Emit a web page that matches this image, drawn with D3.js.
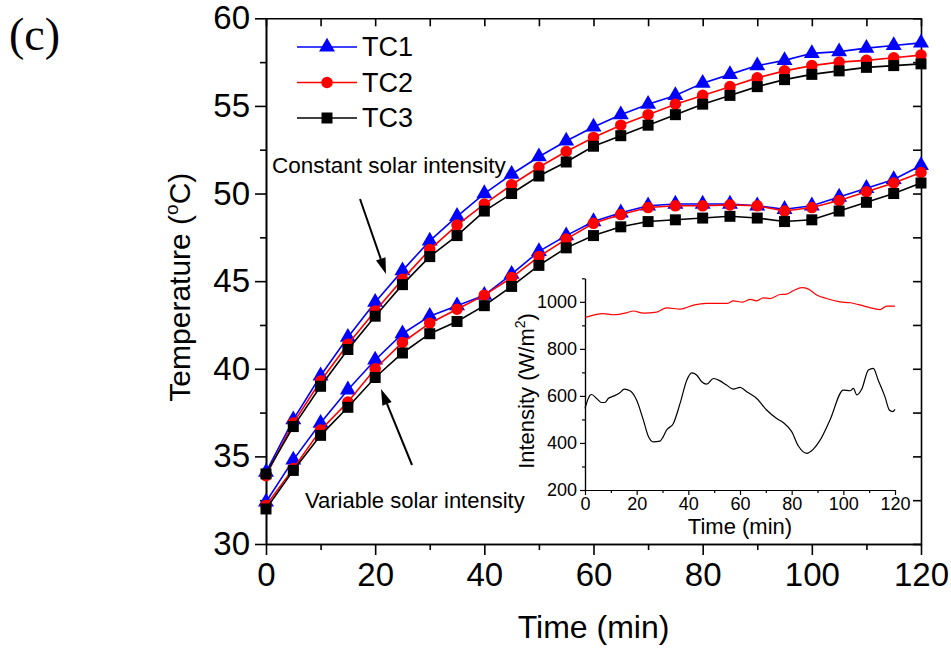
<!DOCTYPE html>
<html>
<head>
<meta charset="utf-8">
<script src="https://cdn.jsdelivr.net/npm/d3@7"></script>
<style>
  body { margin: 0; background: #fff; }
  svg { display: block; font-family: 'Liberation Sans', Arial, sans-serif; }
</style>
</head>
<body>
<div id="chart"></div>
<script>
// time of each marker (min)
const times = [0, 5, 10, 15, 20, 25, 30, 35, 40, 45, 50, 55, 60, 65, 70, 75, 80, 85, 90, 95, 100, 105, 110, 115, 120];

// constant solar intensity run
const constTC1 = [34.1, 37.1, 39.6, 41.8, 43.8, 45.6, 47.3, 48.7, 50.0, 51.1, 52.1, 53.0, 53.8, 54.5, 55.1, 55.6, 56.3, 56.8, 57.3, 57.6, 58.0, 58.1, 58.3, 58.45, 58.6];
const constTC2 = [33.9, 36.9, 39.3, 41.4, 43.3, 45.1, 46.8, 48.2, 49.4, 50.5, 51.5, 52.4, 53.2, 53.9, 54.5, 55.1, 55.6, 56.1, 56.6, 57.0, 57.3, 57.5, 57.6, 57.75, 57.9];
const constTC3 = [34.0, 36.7, 39.0, 41.1, 43.0, 44.8, 46.4, 47.6, 49.0, 50.0, 51.0, 51.8, 52.7, 53.3, 53.9, 54.5, 55.1, 55.6, 56.1, 56.5, 56.8, 57.0, 57.2, 57.3, 57.4];

// variable solar intensity run
const varTC1 = [32.4, 34.8, 36.9, 38.8, 40.5, 42.0, 43.0, 43.6, 44.2, 45.4, 46.7, 47.6, 48.4, 48.9, 49.3, 49.4, 49.4, 49.4, 49.3, 49.1, 49.3, 49.8, 50.3, 50.8, 51.6];
const varTC2 = [32.2, 34.3, 36.5, 38.1, 40.0, 41.5, 42.6, 43.4, 44.2, 45.2, 46.4, 47.4, 48.3, 48.8, 49.2, 49.3, 49.3, 49.35, 49.3, 49.0, 49.2, 49.6, 50.1, 50.6, 51.2];
const varTC3 = [32.0, 34.2, 36.2, 37.8, 39.5, 40.9, 42.0, 42.7, 43.6, 44.7, 45.9, 46.9, 47.6, 48.1, 48.4, 48.5, 48.6, 48.7, 48.6, 48.4, 48.5, 49.0, 49.5, 50.0, 50.6];

// inset: solar intensity (W/m2)
const constIntTimes = [0, 7, 11, 16, 18.7, 22.6, 27.7, 31.6, 36.8, 42, 47, 55, 57.4, 61, 64, 66.5, 69, 71.6, 75.5, 78, 80.6, 83.9, 86.5, 89.7, 93.5, 98.7, 102.6, 107.7, 111.6, 114.2, 116.8, 120];
const constIntensity = [933, 950, 945, 953, 961, 952, 956, 974, 969, 986, 993, 993, 1004, 999, 1010, 1004, 1017, 1014, 1031, 1033, 1047, 1060, 1054, 1029, 1014, 1000, 996, 983, 972, 967, 982, 982];
const varIntTimes = [0, 1.9, 2.6, 4.5, 6.5, 7.7, 9, 11, 13.5, 15.2, 17.4, 20, 22.6, 24.5, 26.5, 29, 30.3, 31.6, 34.2, 36.8, 39.4, 41.3, 43.2, 45.2, 47.1, 49.7, 52.3, 54.8, 57.4, 60, 62.6, 66.5, 70.3, 74.2, 76.8, 80, 82.6, 85.8, 88.4, 91, 94.8, 100, 102.6, 103.9, 105.2, 107.1, 109.7, 111.6, 113.5, 116.1, 117.8, 119.1, 120];
const varIntensity = [547, 602, 606, 589, 572, 572, 589, 599, 613, 629, 622, 582, 497, 429, 405, 408, 427, 455, 483, 568, 667, 698, 689, 660, 650, 674, 664, 646, 629, 636, 618, 589, 540, 504, 486, 448, 387, 356, 374, 412, 497, 625, 622, 632, 604, 628, 710, 717, 667, 597, 540, 533, 543];

const tempTicks = [30, 35, 40, 45, 50, 55, 60];
const tempMinorTicks = [32.5, 37.5, 42.5, 47.5, 52.5, 57.5];
const timeTicks = [0, 20, 40, 60, 80, 100, 120];
const timeMinorTicks = [10, 30, 50, 70, 90, 110];
const intensityTicks = [200, 400, 600, 800, 1000];
const intensityMinorTicks = [300, 500, 700, 900, 1100];

const seriesNames = ['TC1', 'TC2', 'TC3'];
const seriesColors = ['#0000ff', '#ff0000', '#000000'];
const seriesSymbols = [d3.symbolTriangle, d3.symbolCircle, d3.symbolSquare];
const symbolSizes = [110, 105, 121];

const width = 951;
const height = 650;

const svg = d3.select('#chart').append('svg').attr('width', width).attr('height', height);

const x = d3.scaleLinear().domain([0, 120]).range([266, 921]);
const y = d3.scaleLinear().domain([30, 60]).range([544, 18.3]);

const styleAxis = (g, fontSize, strokeWidth) => {
  g.selectAll('path.domain').attr('stroke', '#000').attr('stroke-width', strokeWidth);
  g.selectAll('.tick line').attr('stroke', '#000').attr('stroke-width', strokeWidth);
  g.selectAll('text').attr('fill', '#000').style('font-size', `${fontSize}px`).style('font-family', "'Liberation Sans', Arial, sans-serif");
};

// main axes: left and bottom outward with labels, top and right inward
const [xLeft, xRight] = x.range();
const [yBottom, yTop] = y.range();

const leftMinor = svg.append('g').attr('transform', `translate(${xLeft},0)`)
  .call(d3.axisLeft(y).tickValues(tempMinorTicks).tickSize(6).tickSizeOuter(0).tickFormat(''));
styleAxis(leftMinor, 33, 1.6);
const leftAxis = svg.append('g').attr('transform', `translate(${xLeft},0)`)
  .call(d3.axisLeft(y).tickValues(tempTicks).tickSize(11).tickSizeOuter(0).tickPadding(5));
styleAxis(leftAxis, 33, 1.6);

const bottomMinor = svg.append('g').attr('transform', `translate(0,${yBottom})`)
  .call(d3.axisBottom(x).tickValues(timeMinorTicks).tickSize(6).tickSizeOuter(0).tickFormat(''));
styleAxis(bottomMinor, 33, 1.6);
const bottomAxis = svg.append('g').attr('transform', `translate(0,${yBottom})`)
  .call(d3.axisBottom(x).tickValues(timeTicks).tickSize(11).tickSizeOuter(0).tickPadding(8));
styleAxis(bottomAxis, 33, 1.6);

const topAxis = svg.append('g').attr('transform', `translate(0,${yTop})`)
  .call(d3.axisTop(x).tickValues([...timeTicks, ...timeMinorTicks]).tickSize(-8).tickSizeOuter(0).tickFormat(''));
styleAxis(topAxis, 33, 1.6);
const rightAxis = svg.append('g').attr('transform', `translate(${xRight},0)`)
  .call(d3.axisRight(y).tickValues([...tempTicks, ...tempMinorTicks]).tickSize(-8).tickSizeOuter(0).tickFormat(''));
styleAxis(rightAxis, 33, 1.6);

// axis titles
svg.append('text')
  .attr('x', (xLeft + xRight) / 2)
  .attr('y', 638)
  .attr('text-anchor', 'middle')
  .style('font-size', '32px')
  .text('Time (min)');

const yTitle = svg.append('text')
  .attr('transform', `translate(190,${(yTop + yBottom) / 2 + 6}) rotate(-90)`)
  .attr('text-anchor', 'middle')
  .style('font-size', '30px');
yTitle.append('tspan').text('Temperature (');
yTitle.append('tspan').attr('dy', -12).style('font-size', '19px').text('o');
yTitle.append('tspan').attr('dy', 12).text('C)');

svg.append('text')
  .attr('x', 9)
  .attr('y', 50)
  .style('font-family', "'Liberation Serif', 'Times New Roman', serif")
  .style('font-size', '46px')
  .text('(c)');

// temperature curves
const drawSeries = (values, index) => {
  const points = times.map((t, i) => [t, values[i]]);
  const line = d3.line().x(d => x(d[0])).y(d => y(d[1]));

  svg.append('path')
    .datum(points)
    .attr('fill', 'none')
    .attr('stroke', seriesColors[index])
    .attr('stroke-width', 1.6)
    .attr('d', line);

  svg.append('g')
    .selectAll('path')
    .data(points)
    .enter()
    .append('path')
    .attr('transform', d => `translate(${x(d[0])},${y(d[1])})`)
    .attr('d', d3.symbol().type(seriesSymbols[index]).size(symbolSizes[index]))
    .attr('fill', seriesColors[index]);
};

[varTC1, varTC2, varTC3].forEach(drawSeries);
[constTC1, constTC2, constTC3].forEach(drawSeries);

// legend
const legend = svg.append('g').attr('class', 'legend');
seriesNames.forEach((name, i) => {
  const ly = 47 + i * 35.5;
  legend.append('line')
    .attr('x1', 297).attr('x2', 357).attr('y1', ly).attr('y2', ly)
    .attr('stroke', seriesColors[i]).attr('stroke-width', 1.6);
  legend.append('path')
    .attr('transform', `translate(327,${ly})`)
    .attr('d', d3.symbol().type(seriesSymbols[i]).size(symbolSizes[i]))
    .attr('fill', seriesColors[i]);
  legend.append('text')
    .attr('x', 362).attr('y', ly)
    .attr('dominant-baseline', 'central')
    .style('font-size', '27px')
    .text(name);
});

// annotations with arrows
const drawArrow = (x1, y1, x2, y2) => {
  const angle = Math.atan2(y2 - y1, x2 - x1);
  const headLength = 16;
  const headHalf = 5;
  const bx = x2 - headLength * Math.cos(angle);
  const by = y2 - headLength * Math.sin(angle);
  svg.append('line')
    .attr('x1', x1).attr('y1', y1).attr('x2', bx).attr('y2', by)
    .attr('stroke', '#000').attr('stroke-width', 2);
  const px = -Math.sin(angle) * headHalf;
  const py = Math.cos(angle) * headHalf;
  svg.append('path')
    .attr('d', `M${x2},${y2}L${bx + px},${by + py}L${bx - px},${by - py}Z`)
    .attr('fill', '#000');
};

svg.append('text')
  .attr('x', 272).attr('y', 173)
  .style('font-size', '22.5px')
  .text('Constant solar intensity');
drawArrow(360, 199, 386, 274);

svg.append('text')
  .attr('x', 305).attr('y', 508)
  .style('font-size', '22px')
  .text('Variable solar intensity');
drawArrow(412, 465, 381, 389);

// inset chart of solar intensity
const ix = d3.scaleLinear().domain([0, 120]).range([585, 895]);
const iy = d3.scaleLinear().domain([200, 1100]).range([490, 278.3]);

const insetLeftMinor = svg.append('g').attr('transform', `translate(${ix(0)},0)`)
  .call(d3.axisLeft(iy).tickValues(intensityMinorTicks).tickSize(3).tickSizeOuter(0).tickFormat(''));
styleAxis(insetLeftMinor, 18, 1.2);
const insetLeft = svg.append('g').attr('transform', `translate(${ix(0)},0)`)
  .call(d3.axisLeft(iy).tickValues(intensityTicks).tickSize(5).tickSizeOuter(0).tickPadding(3).tickFormat(d3.format('d')));
styleAxis(insetLeft, 18, 1.2);

const insetBottomMinor = svg.append('g').attr('transform', `translate(0,${iy(200)})`)
  .call(d3.axisBottom(ix).tickValues(timeMinorTicks).tickSize(3).tickSizeOuter(0).tickFormat(''));
styleAxis(insetBottomMinor, 18, 1.2);
const insetBottom = svg.append('g').attr('transform', `translate(0,${iy(200)})`)
  .call(d3.axisBottom(ix).tickValues(timeTicks).tickSize(5).tickSizeOuter(0).tickPadding(2));
styleAxis(insetBottom, 18, 1.2);

const insetLine = d3.line().x(d => ix(d[0])).y(d => iy(d[1]));
svg.append('path')
  .datum(constIntTimes.map((t, i) => [t, constIntensity[i]]))
  .attr('fill', 'none').attr('stroke', '#ff0000').attr('stroke-width', 1.2)
  .attr('d', insetLine.curve(d3.curveMonotoneX));
svg.append('path')
  .datum(varIntTimes.map((t, i) => [t, varIntensity[i]]))
  .attr('fill', 'none').attr('stroke', '#000').attr('stroke-width', 1.2)
  .attr('d', insetLine.curve(d3.curveMonotoneX));

svg.append('text')
  .attr('x', (ix(0) + ix(120)) / 2).attr('y', 534)
  .attr('text-anchor', 'middle')
  .style('font-size', '22px')
  .text('Time (min)');

const iyTitle = svg.append('text')
  .attr('transform', `translate(534,391) rotate(-90)`)
  .attr('text-anchor', 'middle')
  .style('font-size', '22px');
iyTitle.append('tspan').text('Intensity (W/m');
iyTitle.append('tspan').attr('dy', -9).style('font-size', '14px').text('2');
iyTitle.append('tspan').attr('dy', 9).text(')');
</script>
</body>
</html>
